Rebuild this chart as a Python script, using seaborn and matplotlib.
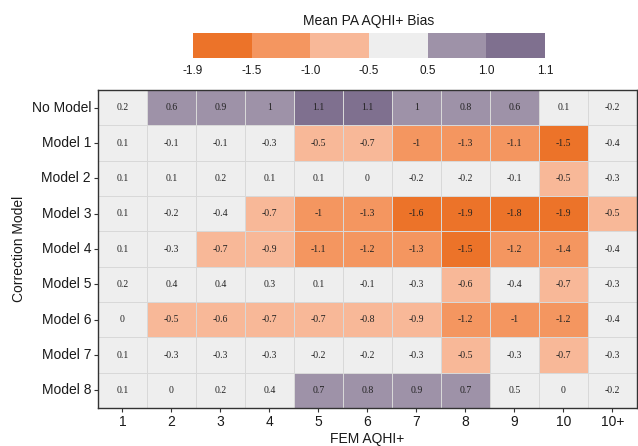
import matplotlib
matplotlib.use("Agg")
import matplotlib.pyplot as plt
from matplotlib.colors import ListedColormap, BoundaryNorm
import seaborn as sns
import numpy as np
import pandas as pd

sns.set_theme(style="white")
plt.rcParams['font.family'] = ['Liberation Sans', 'DejaVu Sans']

# Correction models (rows) and FEM AQHI+ categories (columns)
models = ['No Model', 'Model 1', 'Model 2', 'Model 3', 'Model 4',
          'Model 5', 'Model 6', 'Model 7', 'Model 8']
aqhi = ['1', '2', '3', '4', '5', '6', '7', '8', '9', '10', '10+']

# Mean PA AQHI+ bias (estimated; cell colours show which side of a break each value sits)
no_model = [0.2, 0.6, 0.9, 0.97, 1.08, 1.08, 0.97, 0.8, 0.6, 0.1, -0.2]
model_1 = [0.1, -0.1, -0.1, -0.3, -0.52, -0.7, -1.02, -1.3, -1.1, -1.52, -0.4]
model_2 = [0.1, 0.1, 0.2, 0.1, 0.1, 0.0, -0.2, -0.2, -0.1, -0.52, -0.3]
model_3 = [0.1, -0.2, -0.4, -0.7, -1.02, -1.3, -1.6, -1.9, -1.8, -1.9, -0.52]
model_4 = [0.1, -0.3, -0.7, -0.9, -1.1, -1.2, -1.3, -1.52, -1.2, -1.4, -0.4]
model_5 = [0.2, 0.4, 0.4, 0.3, 0.1, -0.1, -0.3, -0.6, -0.4, -0.7, -0.3]
model_6 = [0.0, -0.52, -0.6, -0.7, -0.7, -0.8, -0.9, -1.2, -1.02, -1.2, -0.4]
model_7 = [0.1, -0.3, -0.3, -0.3, -0.2, -0.2, -0.3, -0.52, -0.3, -0.7, -0.3]
model_8 = [0.1, 0.0, 0.2, 0.4, 0.7, 0.8, 0.9, 0.7, 0.48, 0.0, -0.2]

# Colour breaks of the binned legend
breaks = [-1.9, -1.5, -1.0, -0.5, 0.5, 1.0, 1.1]
break_labels = ['-1.9', '-1.5', '-1.0', '-0.5', '0.5', '1.0', '1.1']
bin_colors = ['#EC7329', '#F49660', '#F8B898', '#EEEEEE', '#9E92A8', '#7F708F']

bias = pd.DataFrame([no_model, model_1, model_2, model_3, model_4,
                     model_5, model_6, model_7, model_8],
                    index=models, columns=aqhi)
labels = bias.map(lambda v: f"{round(v, 1) + 0.0:g}")

cmap = ListedColormap(bin_colors)
norm = BoundaryNorm(breaks, cmap.N)

fig = plt.figure(figsize=(6.38, 4.46), dpi=100)
ax = fig.add_axes([0.1536, 0.0852, 0.8444, 0.7128])
cax = fig.add_axes([0.3025, 0.870, 0.5517, 0.056])

sns.heatmap(bias, ax=ax, cmap=cmap, norm=norm, cbar=False,
            annot=labels, fmt='', linewidths=0.6, linecolor='#D8D8D8',
            annot_kws={'fontsize': 7, 'color': '#222222',
                       'family': 'Liberation Serif'})

for side in ax.spines.values():
    side.set_visible(True)
    side.set_color('#333333')
    side.set_linewidth(1.0)

ax.set_xlabel('FEM AQHI+', fontsize=10, color='#1a1a1a', labelpad=2)
ax.set_ylabel('Correction Model', fontsize=10, color='#1a1a1a', labelpad=4)
ax.tick_params(axis='both', which='both', length=3, width=0.8, color='#333333',
               labelsize=10, labelcolor='#1a1a1a', bottom=True, left=True, pad=2)
ax.set_yticklabels(models, rotation=0)
ax.set_xticklabels(aqhi, rotation=0)

cb = fig.colorbar(ax.collections[0], cax=cax, orientation='horizontal',
                  spacing='uniform', ticks=breaks)
cb.ax.set_xticklabels(break_labels)
cb.ax.tick_params(length=0, labelsize=8.5, labelcolor='#1a1a1a', pad=5)
cb.outline.set_visible(False)
cax.set_title('Mean PA AQHI+ Bias', fontsize=10, color='#1a1a1a', pad=6)

plt.savefig('out.png', dpi=100)
